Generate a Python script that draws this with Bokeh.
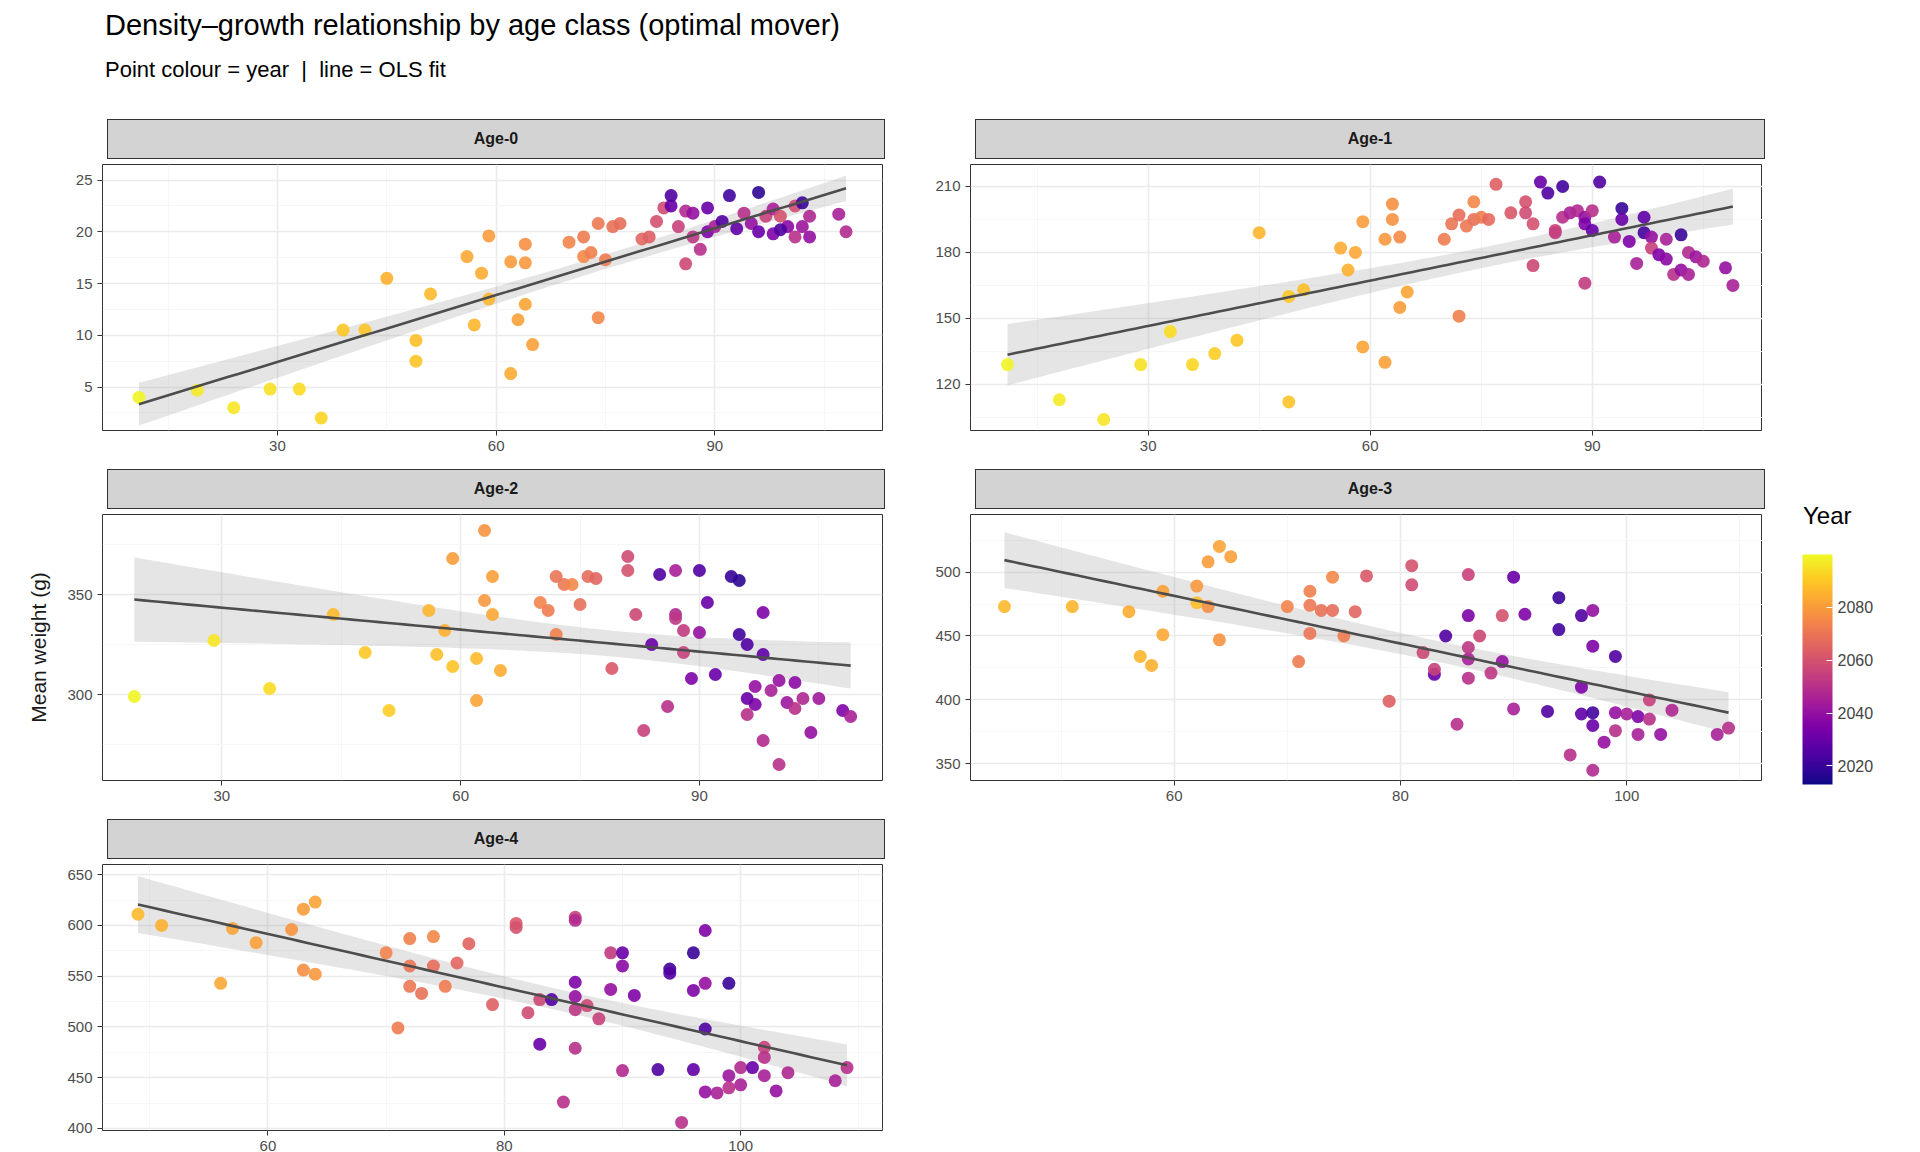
import numpy as np
from bokeh.plotting import figure
from bokeh.models import (ColumnDataSource, LinearColorMapper, ColorBar, FixedTicker,
                          Range1d, Div)
from bokeh.layouts import column, row
from bokeh.palettes import Plasma256
from bokeh.transform import transform
from bokeh.embed import file_html
from bokeh.resources import INLINE

age0 = [(11,4,2099),(19,4.7,2097),(24,3,2096),(29,4.8,2095),(33,4.8,2094),(36,2,2093),(39,10.5,2090),(42,10.5,2089),(45,15.5,2085),(49,9.5,2088),(49,7.5,2089),(51,14,2087),(56,17.6,2083),(57,11,2086),(58,16,2084),(59,13.5,2086),(59,19.6,2080),(62,6.3,2084),(62,17.1,2080),(63,11.5,2081),(64,13,2082),(64,17,2079),(64,18.8,2077),(65,9.1,2081),(70,19,2074),(72,19.5,2072),(72,17.6,2075),(73,18,2073),(74,20.8,2071),(74,11.7,2075),(75,17.3,2072),(76,20.5,2069),(77,20.8,2068),(80,19.3,2066),(81,19.5,2064),(82,21,2060),(83,22.3,2058),(84,22.5,2030),(84,23.5,2025),(85,20.5,2055),(86,16.9,2057),(86,22,2048),(87,21.8,2040),(87,19.5,2052),(88,18.3,2050),(89,22.3,2030),(89,20,2035),(90,20.5,2045),(91,21,2025),(92,23.5,2022),(93,20.3,2028),(94,21.8,2050),(95,20.8,2040),(96,23.8,2018),(96,20,2030),(97,21.5,2055),(98,19.8,2035),(98,22.2,2045),(99,21.5,2060),(100,20.5,2038),(101,22.5,2058),(101,19.5,2050),(102,20.5,2042),(103,21.5,2047),(103,19.5,2040),(107,21.7,2045),(108,20,2048),(102,22.8,2020),(99,20.2,2025)]
age1 = [(11,129,2099),(18,113,2097),(24,104,2096),(29,129,2095),(33,144,2094),(36,129,2093),(39,134,2091),(42,140,2090),(45,189,2086),(49,160,2090),(49,112,2089),(51,163,2088),(56,182,2084),(57,172,2085),(58,180,2083),(59,194,2080),(59,137,2082),(62,130,2081),(62,186,2079),(63,195,2078),(63,202,2077),(64,155,2080),(64,187,2076),(65,162,2082),(70,186,2072),(71,193,2070),(72,151,2073),(72,197,2068),(73,192,2071),(74,195,2069),(74,203,2075),(75,196,2072),(76,195,2067),(77,211,2064),(79,198,2062),(81,203,2060),(81,198,2058),(82,193,2060),(82,174,2057),(83,212,2030),(84,207,2025),(85,189,2052),(85,190,2055),(86,210,2022),(86,196,2050),(87,198,2045),(88,199,2048),(89,196,2040),(89,193,2035),(90,199,2050),(89,166,2053),(90,190,2030),(91,212,2025),(93,187,2045),(94,200,2020),(94,195,2030),(95,185,2035),(96,175,2045),(97,189,2022),(97,196,2028),(98,187,2040),(98,182,2055),(99,179,2035),(100,186,2045),(100,177,2038),(101,170,2050),(102,188,2020),(102,172,2040),(103,180,2048),(103,170,2045),(104,178,2042),(105,176,2047),(108,173,2040),(109,165,2045)]
age2 = [(19,299,2099),(29,327,2096),(36,303,2094),(44,340,2087),(48,321,2090),(51,292,2091),(56,342,2086),(57,320,2088),(58,332,2085),(59,314,2089),(59,368,2080),(62,297,2082),(62,318,2087),(63,347,2079),(63,382,2078),(64,359,2081),(64,340,2083),(65,312,2084),(70,346,2074),(71,342,2072),(72,330,2073),(72,359,2070),(73,355,2071),(74,355,2075),(75,345,2069),(76,359,2068),(77,358,2066),(79,313,2062),(81,362,2060),(81,369,2058),(82,340,2057),(83,282,2055),(84,325,2030),(85,360,2025),(86,294,2050),(87,362,2045),(87,340,2048),(87,338,2052),(88,321,2055),(88,332,2053),(89,308,2035),(90,362,2025),(90,331,2040),(91,346,2030),(92,310,2030),(94,359,2020),(95,330,2022),(95,357,2018),(96,290,2050),(96,325,2025),(97,295,2035),(97,304,2040),(98,320,2028),(98,277,2048),(99,302,2045),(100,307,2040),(100,265,2050),(101,296,2042),(102,306,2038),(102,293,2050),(103,298,2047),(104,281,2040),(105,298,2043),(108,292,2035),(109,289,2045),(98,341,2035),(96,298,2030)]
age3 = [(45,473,2087),(51,473,2086),(56,469,2084),(57,434,2086),(58,427,2085),(59,451,2083),(59,485,2081),(62,476,2088),(62,489,2079),(63,473,2077),(63,508,2080),(64,520,2082),(64,447,2078),(65,512,2081),(70,473,2074),(71,430,2072),(72,485,2073),(72,452,2070),(72,474,2071),(73,470,2069),(74,496,2075),(74,470,2068),(75,450,2072),(76,469,2066),(77,497,2062),(79,399,2064),(81,505,2060),(81,490,2058),(82,437,2057),(83,420,2030),(83,424,2055),(84,450,2025),(85,381,2050),(86,466,2035),(86,498,2055),(86,417,2050),(86,432,2045),(86,441,2052),(87,450,2057),(88,421,2052),(89,430,2040),(89,466,2060),(90,496,2030),(90,393,2045),(91,467,2035),(93,391,2025),(94,480,2020),(94,455,2022),(95,357,2050),(96,389,2028),(96,466,2025),(96,410,2035),(97,470,2040),(97,442,2035),(97,380,2030),(97,390,2022),(97,345,2048),(98,367,2040),(99,434,2025),(99,390,2040),(99,376,2050),(100,389,2045),(101,387,2035),(101,373,2045),(102,400,2055),(102,385,2050),(103,373,2040),(104,392,2047),(108,373,2045),(109,378,2050)]
age4 = [(49,611,2087),(51,600,2085),(56,543,2083),(57,597,2082),(59,583,2081),(62,596,2078),(63,616,2080),(63,556,2077),(64,623,2082),(64,552,2079),(70,573,2074),(71,499,2072),(72,587,2073),(72,560,2070),(72,540,2071),(73,533,2069),(74,589,2075),(74,560,2068),(75,540,2072),(76,563,2066),(77,582,2065),(79,522,2064),(81,602,2062),(81,598,2060),(82,514,2058),(83,527,2057),(83,483,2030),(84,527,2025),(85,426,2050),(86,608,2055),(86,605,2048),(86,544,2035),(86,530,2040),(86,517,2052),(86,479,2050),(87,521,2057),(88,508,2055),(89,573,2053),(89,537,2040),(90,573,2030),(90,560,2038),(90,457,2048),(91,531,2035),(93,458,2025),(94,557,2022),(94,553,2025),(95,406,2050),(96,573,2020),(96,536,2035),(96,458,2028),(97,595,2035),(97,543,2040),(97,498,2025),(97,436,2040),(98,435,2045),(99,543,2020),(99,452,2042),(99,440,2050),(100,460,2048),(100,443,2045),(101,460,2030),(102,480,2055),(102,470,2050),(102,452,2045),(103,437,2040),(104,455,2047),(108,447,2045),(109,460,2050)]

panels = ["Age-0", "Age-1", "Age-2", "Age-3", "Age-4"]
datasets = [age0, age1, age2, age3, age4]
x_ticks = [[30, 60, 90], [30, 60, 90], [30, 60, 90], [60, 80, 100], [60, 80, 100]]
y_ticks = [[5, 10, 15, 20, 25], [120, 150, 180, 210], [300, 350], [350, 400, 450, 500], [400, 450, 500, 550, 600, 650]]
x_ranges = [(6, 113), (6, 113), (15, 113), (42, 112), (46, 112)]
y_ranges = [(0.8, 26.5), (99, 220), (257, 390), (337, 545), (398, 660)]

mapper = LinearColorMapper(palette=Plasma256, low=2013, high=2100)
FONT = "Liberation Sans"

def make_panel(i):
    data = datasets[i]
    x = np.array([d[0] for d in data], float)
    y = np.array([d[1] for d in data], float)
    yr = [d[2] for d in data]
    left = i % 2 == 0
    bl = 102 if left else 70
    br = 8 if left else 0
    fw = 890 if left else 862
    p = figure(width=fw, height=300, output_backend="svg", toolbar_location=None,
               x_range=Range1d(*x_ranges[i]), y_range=Range1d(*y_ranges[i]),
               min_border_left=bl, min_border_right=br,
               min_border_bottom=34, min_border_top=0)
    p.outline_line_color = "#333333"
    for ax in (p.xaxis[0], p.yaxis[0]):
        ax.axis_line_color = None
        ax.major_tick_line_color = "#333333"
        ax.minor_tick_line_color = None
        ax.major_label_text_font = FONT
        ax.major_label_text_font_size = "15px"
        ax.major_label_text_color = "#4d4d4d"
        ax.major_tick_out = 5
        ax.major_tick_in = 0
    xt, ytk = x_ticks[i], y_ticks[i]
    xs = xt[1] - xt[0]; ys = ytk[1] - ytk[0]
    p.xaxis.ticker = FixedTicker(ticks=xt, minor_ticks=[xt[0] - xs / 2 + k * xs for k in range(len(xt) + 1)])
    p.yaxis.ticker = FixedTicker(ticks=ytk, minor_ticks=[ytk[0] - ys / 2 + k * ys for k in range(len(ytk) + 1)])
    p.grid.grid_line_color = "#ebebeb"
    p.grid.grid_line_width = 1.6
    p.grid.minor_grid_line_color = "#f5f5f5"
    p.grid.minor_grid_line_width = 0.9
    if i == 2:
        p.yaxis.axis_label = "Mean weight (g)"
        p.yaxis.axis_label_text_font = FONT
        p.yaxis.axis_label_text_font_size = "21px"
        p.yaxis.axis_label_text_font_style = "normal"
        p.yaxis.axis_label_text_color = "#1a1a1a"
        p.yaxis.axis_label_standoff = 14
    n = len(x)
    b, a = np.polyfit(x, y, 1)
    xg = np.linspace(x.min(), x.max(), 80)
    yg = a + b * xg
    resid = y - (a + b * x)
    s = np.sqrt(np.sum(resid ** 2) / (n - 2))
    se = s * np.sqrt(1 / n + (xg - x.mean()) ** 2 / np.sum((x - x.mean()) ** 2))
    band = ColumnDataSource(dict(x=xg, lo=yg - 1.99 * se, hi=yg + 1.99 * se))
    p.varea(x="x", y1="lo", y2="hi", source=band, fill_color="#999999", fill_alpha=0.25)
    src = ColumnDataSource(dict(x=x, y=y, year=yr))
    p.scatter("x", "y", source=src, size=13, fill_color=transform("year", mapper),
              line_color=None, fill_alpha=0.9)
    p.line(xg, yg, line_color="#4d4d4d", line_width=2.6)
    frame_w = fw - bl - br
    strip = Div(text=(f"<div style='margin-left:{bl}px;width:{frame_w - 2}px;height:40px;"
                      "background:#d3d3d3;border:1.5px solid #333;box-sizing:border-box;"
                      f"font-family:{FONT};font-weight:bold;font-size:16px;color:#1a1a1a;"
                      "display:flex;align-items:center;justify-content:center'>"
                      f"{panels[i]}</div>"), width=fw, height=40)
    return column(strip, p, spacing=0)

figs = [make_panel(i) for i in range(5)]

cb_fig = figure(width=130, height=250, output_backend="svg", toolbar_location=None,
                min_border=0, outline_line_color=None)
cb_fig.xaxis.visible = False
cb_fig.yaxis.visible = False
cb_fig.grid.visible = False
cb = ColorBar(color_mapper=mapper, ticker=FixedTicker(ticks=[2020, 2040, 2060, 2080]),
              width=30, height=230, location=(0, 0),
              major_label_text_font=FONT, major_label_text_font_size="16px",
              major_tick_line_color="white", major_tick_in=6, bar_line_color=None,
              border_line_color=None, padding=4)
cb_fig.add_layout(cb, "center")
ytitle = Div(text=f"<div style='font-family:{FONT};font-size:24px;color:#000'>Year</div>", width=120, height=34)

title = Div(text=f"<div style='font-family:{FONT};font-size:29px;color:#000;margin-left:100px'>Density\u2013growth relationship by age class (optimal mover)</div>"
                 f"<div style='font-family:{FONT};font-size:22px;color:#000;margin-left:100px;margin-top:8px'>Point colour = year&nbsp; |&nbsp; line = OLS fit</div>",
            width=1700, height=104)
xlab = Div(text=f"<div style='font-family:{FONT};font-size:22px;color:#1a1a1a;text-align:center;width:1760px'>Total population size (October 1)</div>",
           width=1760, height=30)

grid = column(row(figs[0], figs[1]), row(figs[2], figs[3]), row(figs[4]))
legend = column(Div(text="", height=370, width=10), ytitle, cb_fig)
layout = column(title, row(grid, Div(text="", width=16, height=10), legend), xlab)

open("out.html", "w").write(file_html(layout, INLINE))
